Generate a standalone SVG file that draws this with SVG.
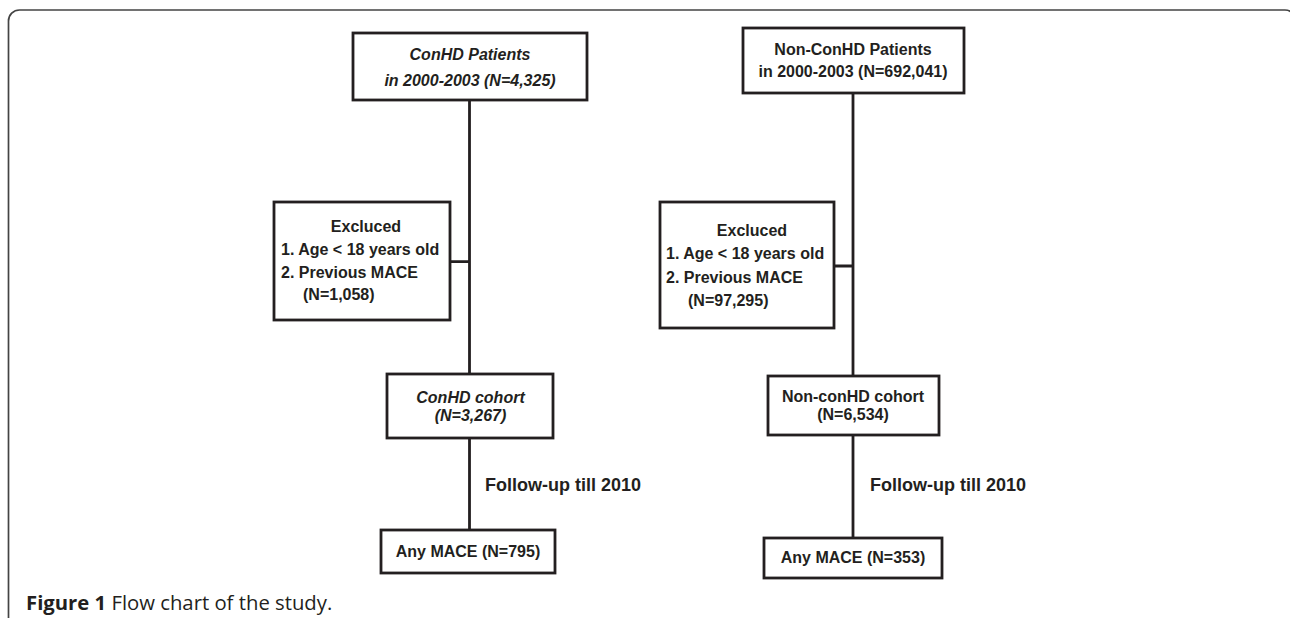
<svg xmlns="http://www.w3.org/2000/svg" width="1290" height="618" viewBox="0 0 1290 618">
<style>
.box{fill:#fff;stroke:#231f20;stroke-width:2.8}
.ln{fill:none;stroke:#231f20;stroke-width:2.8}
.t{font-family:"Liberation Sans",Arial,sans-serif;font-weight:bold;font-size:16px;fill:#231f20}
.c{text-anchor:middle}
.i{font-style:italic}
.f{font-size:18px}
.cap{font-family:"Open Sans","Liberation Sans",sans-serif;font-size:20.3px;fill:#231f20}
</style>
<rect width="1290" height="618" fill="#fff"/>
<path d="M8.5,618 V21 A11,11 0 0 1 19.5,10 H1285 A11,11 0 0 1 1296,21 V618" fill="none" stroke="#444" stroke-width="1.7"/>
<g id="connectors">
<path class="ln" d="M469.5,100 V374 M450,261.7 H469.5 M469.5,438 V530"/>
<path class="ln" d="M853,93 V376 M834,266 H853 M853,435 V538"/>
</g>
<g id="conhd-patients">
<rect class="box" x="353" y="33" width="234" height="67"/>
<text class="t c i" x="470" y="59.5">ConHD Patients</text>
<text class="t c i" x="470" y="85.5">in 2000-2003 (N=4,325)</text>
</g>
<g id="nonconhd-patients">
<rect class="box" x="743" y="28" width="221" height="65"/>
<text class="t c" x="853" y="54.5">Non-ConHD Patients</text>
<text class="t c" x="853" y="77">in 2000-2003 (N=692,041)</text>
</g>
<g id="excluded-left">
<rect class="box" x="274" y="202" width="176" height="118"/>
<text class="t c" x="366" y="232">Excluced</text>
<text class="t" x="281" y="255">1. Age &lt; 18 years old</text>
<text class="t" x="281" y="277.5">2. Previous MACE</text>
<text class="t" x="303" y="300">(N=1,058)</text>
</g>
<g id="excluded-right">
<rect class="box" x="660" y="202" width="174" height="126"/>
<text class="t c" x="752" y="236">Excluced</text>
<text class="t" x="666" y="259">1. Age &lt; 18 years old</text>
<text class="t" x="666" y="283">2. Previous MACE</text>
<text class="t" x="688" y="305.5">(N=97,295)</text>
</g>
<g id="conhd-cohort">
<rect class="box" x="387" y="374" width="166" height="64"/>
<text class="t c i" x="470.5" y="402.5">ConHD cohort</text>
<text class="t c i" x="470.5" y="420.5">(N=3,267)</text>
</g>
<g id="nonconhd-cohort">
<rect class="box" x="768" y="376" width="171" height="59"/>
<text class="t c" x="853" y="401.5">Non-conHD cohort</text>
<text class="t c" x="853" y="419.5">(N=6,534)</text>
</g>
<g id="followup-labels">
<text class="t f" x="485" y="491">Follow-up till 2010</text>
<text class="t f" x="870" y="491">Follow-up till 2010</text>
</g>
<g id="mace-left">
<rect class="box" x="381" y="530" width="174" height="43"/>
<text class="t c" x="468" y="557">Any MACE (N=795)</text>
</g>
<g id="mace-right">
<rect class="box" x="764" y="538" width="178" height="40"/>
<text class="t c" x="853" y="563">Any MACE (N=353)</text>
</g>
<text class="cap" x="26" y="610"><tspan font-weight="bold">Figure 1</tspan> Flow chart of the study.</text>
</svg>
